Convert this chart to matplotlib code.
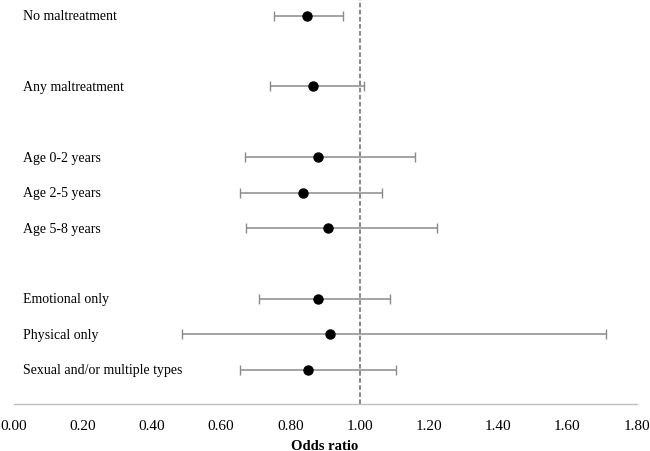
import numpy as np
import matplotlib.pyplot as plt

# rows from top to bottom, with gaps between groups
labels = ["No maltreatment", "Any maltreatment",
          "Age 0-2 years", "Age 2-5 years", "Age 5-8 years",
          "Emotional only", "Physical only", "Sexual and/or multiple types"]
rows = [11, 9, 7, 6, 5, 3, 2, 1]
odds = [0.847, 0.865, 0.881, 0.837, 0.909, 0.880, 0.914, 0.851]
ci_low = [0.753, 0.740, 0.670, 0.654, 0.671, 0.709, 0.486, 0.655]
ci_high = [0.952, 1.012, 1.159, 1.066, 1.225, 1.087, 1.713, 1.105]
xticks = [0.0, 0.2, 0.4, 0.6, 0.8, 1.0, 1.2, 1.4, 1.6, 1.8]

plt.rcParams['font.family'] = ['Liberation Serif', 'DejaVu Serif']

fig = plt.figure(figsize=(6.5, 4.52), dpi=100)
ax = fig.add_axes([13.5 / 650, (452 - 404.7) / 452, 623 / 650, 404.7 / 452])

odds = np.array(odds)
err = [odds - np.array(ci_low), np.array(ci_high) - odds]

# reference line at 1
ax.axvline(1.0, color="#8c8c8c", linestyle=(0, (2.2, 1.2)), linewidth=1.5, zorder=1)

ax.errorbar(odds, rows, xerr=err, fmt="none", ecolor="#8a8a8a",
            elinewidth=1.1, capsize=3.5, capthick=1.0, zorder=2)
ax.plot(odds, rows, "o", color="black", markersize=6.5, zorder=3)

for lab, r in zip(labels, rows):
    ax.text(0.027, r, lab, va="center", ha="left", fontsize=10)

ax.set_xlim(0, 1.8)
ax.set_ylim(0.04, 11.47)
ax.set_xticks(xticks)
ax.set_xticklabels(["%.2f" % t for t in xticks], fontsize=11)
ax.set_yticks([])
ax.tick_params(axis="x", length=0, pad=11)

for side in ["top", "right", "left"]:
    ax.spines[side].set_visible(False)
ax.spines["bottom"].set_color("#bfbfbf")
ax.spines["bottom"].set_linewidth(1.0)

ax.set_xlabel("Odds ratio", fontsize=10.5, fontweight="bold", labelpad=5)

fig.savefig("out.png", dpi=100)
